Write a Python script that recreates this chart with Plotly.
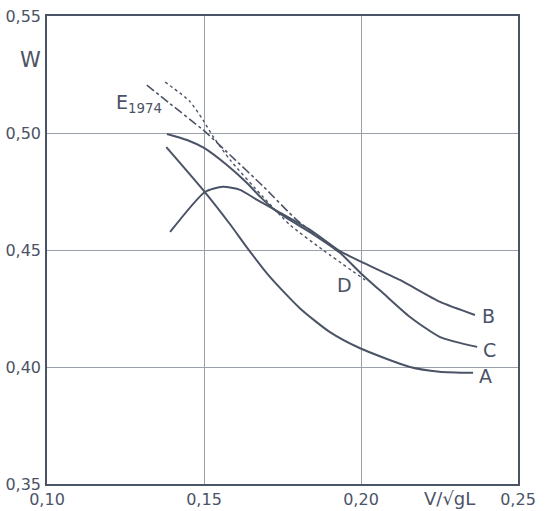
import plotly.graph_objects as go

# Curve data (x = V/sqrt(gL), y = W)
a_x = [0.138, 0.1497, 0.1583, 0.164, 0.171, 0.1806, 0.190, 0.1997, 0.2156, 0.225, 0.2357]
a_y = [0.494, 0.4757, 0.4610, 0.4505, 0.4385, 0.4250, 0.415, 0.408, 0.400, 0.398, 0.3975]

b_x = [0.1392, 0.1503, 0.156, 0.1615, 0.1669, 0.1736, 0.1847, 0.1933, 0.200, 0.2124, 0.2252, 0.2363]
b_y = [0.4577, 0.4748, 0.477, 0.4757, 0.4714, 0.4664, 0.4578, 0.4495, 0.445, 0.4372, 0.4278, 0.4222]

c_x = [0.1382, 0.1446, 0.150, 0.1573, 0.1637, 0.168, 0.1736, 0.1847, 0.1933, 0.200, 0.207, 0.2156, 0.2252, 0.237]
c_y = [0.4996, 0.497, 0.4936, 0.4863, 0.4786, 0.4726, 0.4660, 0.4568, 0.4488, 0.440, 0.4316, 0.4214, 0.4128, 0.4086]

d_x = [0.1376, 0.1455, 0.1497, 0.1529, 0.1583, 0.1688, 0.1774, 0.1879, 0.2013]
d_y = [0.5218, 0.5135, 0.5055, 0.4985, 0.4885, 0.4727, 0.4607, 0.450, 0.4372]

e_x = [0.1318, 0.1392, 0.1497, 0.1583, 0.1690, 0.1796, 0.1933]
e_y = [0.5205, 0.5125, 0.5013, 0.4906, 0.4770, 0.4628, 0.4491]

x_ticks = [0.10, 0.15, 0.20, 0.25]
x_ticktext = ["0,10", "0,15", "0,20", "0,25"]
y_ticks = [0.35, 0.40, 0.45, 0.50, 0.55]
y_ticktext = ["0,35", "0,40", "0,45", "0,50", "0,55"]

ink = "#4b5366"
grid = "#9aa0aa"
font = "DejaVu Sans"

fig = go.Figure()
for xs, ys, dash, w in [(a_x, a_y, "solid", 2), (b_x, b_y, "solid", 2), (c_x, c_y, "solid", 2),
                        (d_x, d_y, "dot", 1.4), (e_x, e_y, "dashdot", 1.6)]:
    fig.add_trace(go.Scatter(x=xs, y=ys, mode="lines",
                             line=dict(color=ink, width=w, dash=dash, shape="spline", smoothing=0.6),
                             showlegend=False, hoverinfo="skip"))

labels = [("A", 0.2398, 0.3962), ("B", 0.2405, 0.4218), ("C", 0.2410, 0.4073), ("D", 0.1949, 0.4350)]
for t, x, y in labels:
    fig.add_annotation(x=x, y=y, text=t, showarrow=False, xanchor="center", yanchor="middle",
                       font=dict(family=font, size=19, color=ink))
fig.add_annotation(x=0.1212, y=0.5125, text="E<sub>1974</sub>", showarrow=False,
                   xanchor="left", yanchor="middle", font=dict(family=font, size=19, color=ink))
fig.add_annotation(xref="paper", x=-0.034, y=0.5312, text="W", showarrow=False,
                   xanchor="center", yanchor="middle", font=dict(family=font, size=21, color=ink))
fig.add_annotation(xref="paper", yref="paper", x=0.855, y=-0.004, text="V/√gL", showarrow=False,
                   yanchor="top", xanchor="center", font=dict(family=font, size=18, color=ink))

fig.update_xaxes(range=[0.10, 0.25], tickvals=x_ticks, ticktext=x_ticktext, automargin=False,
                 showgrid=True, gridcolor=grid, gridwidth=1, zeroline=False,
                 showline=True, linecolor=ink, linewidth=1.5, mirror=True,
                 ticks="", tickfont=dict(family=font, size=16, color=ink))
fig.update_yaxes(range=[0.35, 0.55], tickvals=y_ticks, ticktext=y_ticktext, automargin=False,
                 showgrid=True, gridcolor=grid, gridwidth=1, zeroline=False,
                 showline=True, linecolor=ink, linewidth=1.5, mirror=True,
                 ticks="", ticklabelstandoff=1, tickfont=dict(family=font, size=16, color=ink))
fig.update_layout(width=545, height=511, margin=dict(l=47, r=27, t=16, b=27),
                  plot_bgcolor="white", paper_bgcolor="white")

fig.write_html("out.html", config={"displayModeBar": False},
               post_script="document.body.style.margin='0';")
